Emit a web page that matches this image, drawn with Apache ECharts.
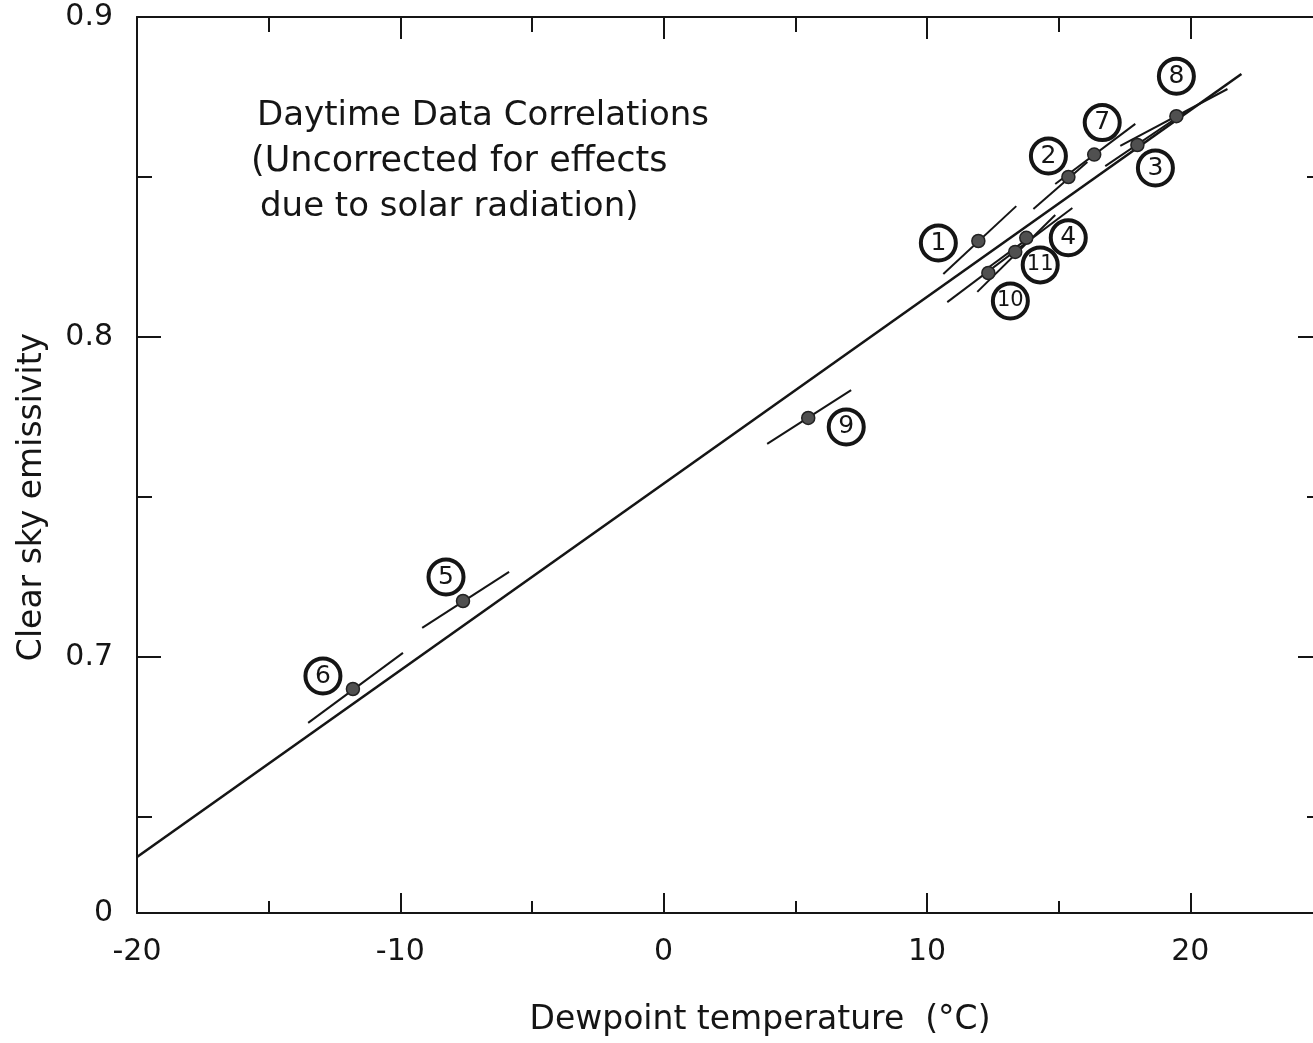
<!DOCTYPE html>
<html>
<head>
<meta charset="utf-8">
<style>
  html, body { margin: 0; padding: 0; background: #fff; }
  #chart { width: 1313px; height: 1043px; }
</style>
<script src="https://cdn.jsdelivr.net/npm/echarts@6/dist/echarts.min.js"></script>
</head>
<body>
<div id="chart"></div>
<script>
// ---- data ----
const stations   = ['1','2','3','4','5','6','7','8','9','10','11'];
const dewpoint   = [11.95, 15.37, 17.99, 13.77, -7.62, -11.80, 16.35, 19.47, 5.49, 12.33, 13.35];
const emissivity = [0.830, 0.850, 0.860, 0.831, 0.7175, 0.690, 0.857, 0.869, 0.7747, 0.820, 0.8266];

// per-station correlation segments (start / end)
const segStartX = [10.62, 14.04, 16.77, 11.91, -9.17, -13.50, 14.87, 17.34, 3.93, 10.77, 12.10];
const segStartY = [0.8197, 0.8400, 0.8534, 0.8141, 0.7091, 0.6794, 0.8478, 0.8597, 0.7666, 0.8109, 0.8203];
const segEndX   = [13.39, 16.09, 19.81, 14.87, -5.87, -9.90, 17.91, 21.41, 7.12, 15.52, 13.92];
const segEndY   = [0.8409, 0.8547, 0.8703, 0.8381, 0.7266, 0.7013, 0.8666, 0.8775, 0.7834, 0.8403, 0.8313];

// overall correlation line
const mainLineX = [-20, 21.94];
const mainLineY = [0.6375, 0.8822];

// axis ticks / labels
const xMajorTicks = [-20, -10, 0, 10, 20];
const xMinorTicks = [-15, -5, 5, 15];
const yLabelValues = [0.62, 0.7, 0.8, 0.9];
const yLabelTexts  = ['0', '0.7', '0.8', '0.9'];
const yMajorTicks = [0.7, 0.8];
const yMinorTicks = [0.65, 0.75, 0.85];

// label placement (pixel offsets from each point) -- layout only
const labelOffsets = [[-40,2],[-20,-21],[18,23],[42,0],[-17,-24],[-30,-13],[8,-32],[0,-40],[38,9],[22,28],[25,13]];

const FONT = '"DejaVu Sans", sans-serif';
const INK = '#151515';

const chart = echarts.init(document.getElementById('chart'), null, {renderer: 'canvas'});

function xAxisDef(pos, ticks, len, showLine, showLabels) {
  return {
    type: 'value', position: pos, min: -20, max: 25, gridIndex: 0,
    axisLine: {show: showLine, onZero: false, lineStyle: {color: INK, width: 2}},
    axisTick: {show: true, inside: true, length: len, customValues: ticks, lineStyle: {color: INK, width: 2}},
    axisLabel: {show: showLabels, customValues: xMajorTicks, margin: 24, color: INK,
      fontFamily: FONT, fontSize: 30,
      formatter: v => (v < 0 ? '-' : '') + Math.abs(v)},
    splitLine: {show: false}
  };
}
function yAxisDef(pos, ticks, len, showLine, showLabels) {
  return {
    type: 'value', position: pos, min: 0.62, max: 0.9, gridIndex: 0,
    axisLine: {show: showLine, onZero: false, lineStyle: {color: INK, width: 2}},
    axisTick: {show: true, inside: true, length: len, customValues: ticks, lineStyle: {color: INK, width: 2}},
    axisLabel: {show: showLabels, customValues: yLabelValues, margin: 24, color: INK,
      fontFamily: FONT, fontSize: 30,
      formatter: v => {
        const i = yLabelValues.findIndex(t => Math.abs(t - v) < 1e-6);
        return i >= 0 ? yLabelTexts[i] : '';
      }},
    splitLine: {show: false}
  };
}

const series = [];
series.push({
  type: 'line', xAxisIndex: 0, yAxisIndex: 0, symbol: 'none', silent: true, z: 3,
  lineStyle: {color: INK, width: 2.6},
  data: mainLineX.map((x, i) => [x, mainLineY[i]])
});
stations.forEach((s, i) => {
  series.push({
    type: 'line', xAxisIndex: 0, yAxisIndex: 0, symbol: 'none', silent: true, z: 3,
    lineStyle: {color: INK, width: 2},
    data: [[segStartX[i], segStartY[i]], [segEndX[i], segEndY[i]]]
  });
});
series.push({
  type: 'scatter', xAxisIndex: 0, yAxisIndex: 0, z: 5,
  symbol: 'circle', symbolSize: 13,
  itemStyle: {color: '#505050', borderColor: '#222', borderWidth: 1.5, opacity: 1},
  data: stations.map((s, i) => ({
    name: s,
    value: [dewpoint[i], emissivity[i]],
    label: {
      show: true, position: 'inside', offset: labelOffsets[i],
      formatter: '{b}', color: INK, fontFamily: FONT,
      fontSize: s.length > 1 ? 21 : 25,
      width: 35, height: 35, lineHeight: 35, align: 'center', verticalAlign: 'middle',
      borderColor: INK, borderWidth: 2, borderRadius: 18, padding: 0,
      backgroundColor: 'rgba(255,255,255,0)'
    }
  }))
});

const option = {
  backgroundColor: '#ffffff',
  animation: false,
  grid: {left: 137, right: -9, top: 17, bottom: 130, containLabel: false, outerBoundsMode: 'none'},
  xAxis: [
    xAxisDef('bottom', xMajorTicks, 20, true, true),
    xAxisDef('bottom', xMinorTicks, 12, false, false),
    xAxisDef('top', xMajorTicks, 22, true, false),
    xAxisDef('top', xMinorTicks, 15, false, false)
  ],
  yAxis: [
    yAxisDef('left', yMajorTicks, 24, true, true),
    yAxisDef('left', yMinorTicks, 15, false, false),
    yAxisDef('right', yMajorTicks, 24, true, false),
    yAxisDef('right', yMinorTicks, 15, false, false)
  ],
  series: series,
  graphic: [
    {type: 'text', x: 760, y: 1020, silent: true,
      style: {text: 'Dewpoint temperature  (°C)', fill: INK, font: '33px ' + FONT,
        textAlign: 'center', textVerticalAlign: 'middle'}},
    {type: 'text', x: 32, y: 497, rotation: Math.PI / 2, silent: true,
      style: {text: 'Clear sky emissivity', fill: INK, font: '33px ' + FONT,
        textAlign: 'center', textVerticalAlign: 'middle'}},
    {type: 'text', x: 257, y: 116, silent: true,
      style: {text: 'Daytime Data Correlations', fill: INK, font: '34px ' + FONT,
        textAlign: 'left', textVerticalAlign: 'middle'}},
    {type: 'text', x: 251, y: 162, silent: true,
      style: {text: '(Uncorrected for effects', fill: INK, font: '35px ' + FONT,
        textAlign: 'left', textVerticalAlign: 'middle'}},
    {type: 'text', x: 260, y: 207, silent: true,
      style: {text: 'due to solar radiation)', fill: INK, font: '34px ' + FONT,
        textAlign: 'left', textVerticalAlign: 'middle'}}
  ]
};
chart.setOption(option);
</script>
</body>
</html>
